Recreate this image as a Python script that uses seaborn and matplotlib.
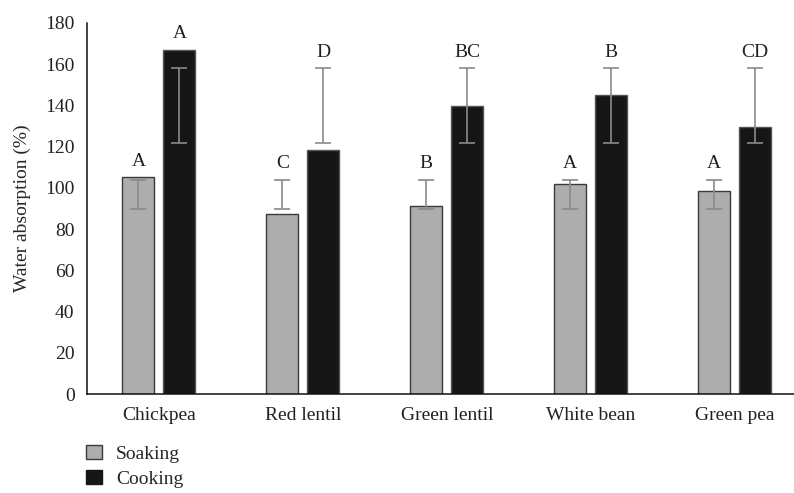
import matplotlib
matplotlib.use("Agg")
import matplotlib.pyplot as plt
from matplotlib.patches import Patch
import pandas as pd
import seaborn as sns

# ── Dados ────────────────────────────────────────────────────────
legumes = ["Chickpea", "Red lentil", "Green lentil", "White bean", "Green pea"]
soaking = [105, 87.5, 91, 102, 98.5]
cooking = [167, 118.5, 139.5, 145, 129.5]
# barras de erro (limites inferior/superior, como estão na figura)
soak_err_lo = [89.5, 89.5, 89.5, 89.5, 89.5]
soak_err_hi = [104, 104, 104, 104, 104]
cook_err_lo = [121.5, 121.5, 121.5, 121.5, 121.5]
cook_err_hi = [158, 158, 158, 158, 158]
soak_letters = ["A", "C", "B", "A", "A"]
cook_letters = ["A", "D", "BC", "B", "CD"]

SOAK_COLOR = "#adadad"
COOK_COLOR = "#161616"
ERR_COLOR = "#8a8a8a"
FS = 14

df = pd.DataFrame({
    "legume": legumes * 2,
    "treatment": ["Soaking"] * 5 + ["Cooking"] * 5,
    "value": soaking + cooking,
})

sns.set_style("white")
plt.rcParams["font.family"] = ["Liberation Serif", "DejaVu Serif"]

fig = plt.figure(figsize=(7.94, 4.93), dpi=100)
ax = fig.add_axes([0.1096, 0.2008, 0.8904, 0.753])

sns.barplot(data=df, x="legume", y="value", hue="treatment",
            hue_order=["Soaking", "Cooking"],
            palette=[SOAK_COLOR, COOK_COLOR],
            width=0.57, gap=0.22, errorbar=None, legend=False, ax=ax,
            saturation=1)

edges = ["#3a3a3a", "#555555"]
for cont, lo, hi, letters, ec in zip(ax.containers,
                                     [soak_err_lo, cook_err_lo],
                                     [soak_err_hi, cook_err_hi],
                                     [soak_letters, cook_letters], edges):
    for bar, l, h, lab in zip(cont, lo, hi, letters):
        bar.set_edgecolor(ec)
        bar.set_linewidth(1.0)
        xc = bar.get_x() + bar.get_width() / 2
        mid = (l + h) / 2
        ax.errorbar(xc, mid, yerr=[[mid - l], [h - mid]], fmt="none",
                    ecolor=ERR_COLOR, elinewidth=1.2, capsize=6, capthick=1.2,
                    zorder=3)
        top = max(bar.get_height(), h)
        ax.text(xc, top + 3.5, lab, ha="center", va="bottom", fontsize=FS,
                color="#222222")

ax.set_ylim(0, 180)
ax.set_xlim(-0.5, 4.413)
ax.set_yticks(range(0, 181, 20))
ax.set_xlabel("")
ax.set_ylabel("Water absorption (%)", fontsize=FS, labelpad=10)
ax.tick_params(axis="both", length=0, labelsize=FS, colors="#222222")
ax.tick_params(axis="x", pad=9)
ax.tick_params(axis="y", pad=9)
sns.despine(ax=ax)
for side in ["left", "bottom"]:
    ax.spines[side].set_color("#111111")
    ax.spines[side].set_linewidth(1.1)

handles = [Patch(facecolor=SOAK_COLOR, edgecolor="#3a3a3a", label="Soaking"),
           Patch(facecolor=COOK_COLOR, edgecolor="#161616", label="Cooking")]
fig.legend(handles=handles, loc="upper left", bbox_to_anchor=(0.096, 0.118),
           frameon=False, fontsize=FS, handlelength=0.8, handleheight=0.8,
           handletextpad=0.75, labelspacing=0.35, borderpad=0)

fig.savefig("out.png", dpi=100)
